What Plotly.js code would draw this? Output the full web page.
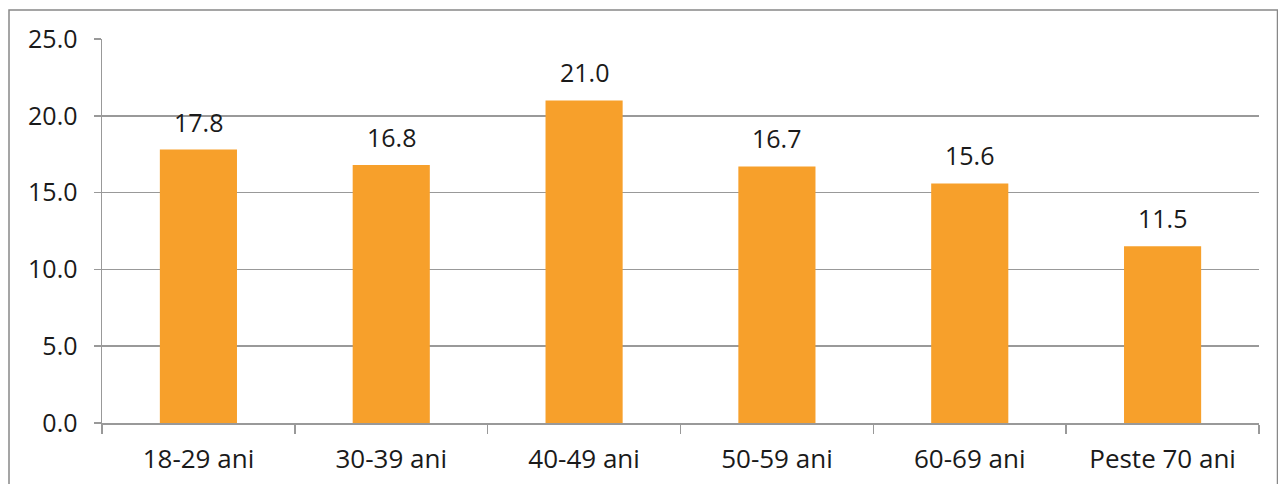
<!DOCTYPE html>
<html><head><meta charset="utf-8">
<script src="https://cdn.plot.ly/plotly-3.0.1.min.js"></script>
<style>html,body{margin:0;padding:0;background:#fff}#chart{width:1278px;height:484px}</style>
</head><body><div id="chart"></div>
<script>
const categories = ["18-29 ani","30-39 ani","40-49 ani","50-59 ani","60-69 ani","Peste 70 ani"];
const values = [17.8, 16.8, 21.0, 16.7, 15.6, 11.5];
const yTicks = [0, 5, 10, 15, 20, 25];

const L = 102, R = 19, T = 39, B = 61, W = 1278, H = 484;
const pw = W - L - R, ph = H - T - B;
const font = "'Open Sans', Lato, sans-serif";
const txt = "#1a1a1a";

const trace = {
  type: "bar", x: categories, y: values,
  marker: {color: "#F7A02B"}, hoverinfo: "none"
};
const annotations = categories.map((c, i) => ({
  x: c, y: values[i], xref: "x", yref: "y", text: values[i].toFixed(1),
  showarrow: false, yanchor: "bottom", yshift: 9,
  font: {family: font, size: 25, color: txt}
}));
const layout = {
  width: W, height: H, margin: {l: L, r: R, t: T, b: B},
  paper_bgcolor: "#fff", plot_bgcolor: "#fff",
  bargap: 0.6, showlegend: false,
  xaxis: {type: "category", tickson: "boundaries", ticks: "outside", ticklen: 9, tickcolor: "#999", tickwidth: 1.5,
    showline: true, linecolor: "#999", linewidth: 1.5, showgrid: false, ticklabelstandoff: 12,
    tickfont: {family: font, size: 26, color: txt}},
  yaxis: {range: [0, 25], tickvals: yTicks, ticktext: yTicks.map(v => v.toFixed(1)),
    ticks: "outside", ticklen: 7, tickcolor: "#999", tickwidth: 1.5,
    showline: true, linecolor: "#999", linewidth: 1.5, gridcolor: "#999", gridwidth: 1.6, zeroline: false,
    ticklabelstandoff: 11,
    tickfont: {family: font, size: 25, color: txt}},
  annotations: annotations,
  shapes: [{type: "rect", xref: "paper", yref: "paper",
    x0: (9 - L) / pw, x1: (1277.5 - L) / pw, y0: (H - 490 - B) / ph, y1: (H - 10 - B) / ph,
    line: {color: "#888", width: 1.5}, fillcolor: "rgba(0,0,0,0)"}]
};
Plotly.newPlot("chart", [trace], layout, {staticPlot: true});
</script></body></html>
